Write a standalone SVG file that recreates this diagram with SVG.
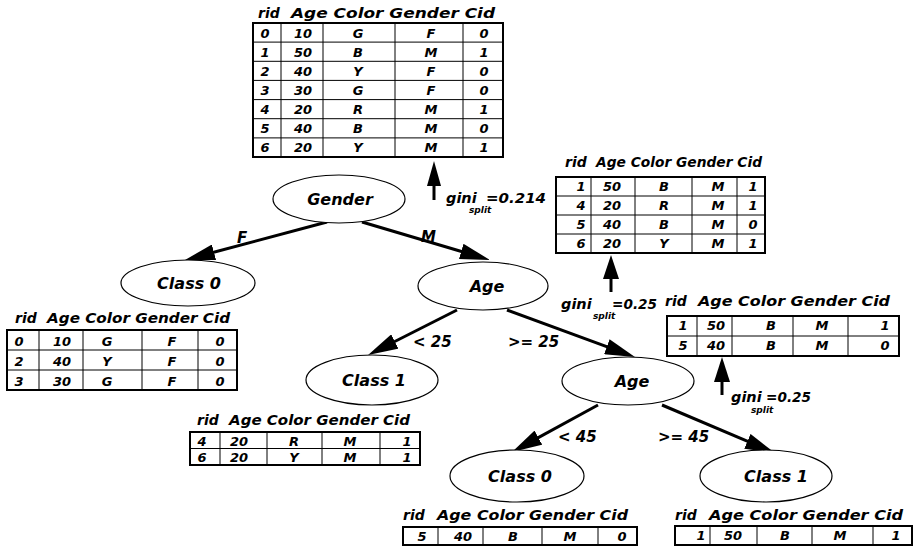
<svg xmlns="http://www.w3.org/2000/svg" width="921" height="556" viewBox="0 0 921 556">
<style>
.t{font-family:"DejaVu Sans",sans-serif;font-weight:bold;font-style:italic;fill:#000}
.h{font-size:14px}
.c{font-size:13px;text-anchor:middle}
.n{font-size:16px;text-anchor:middle}
.e{font-size:15px}
.g{font-size:14.5px}
.s{font-size:9px}
.tb{fill:none;stroke:#000;stroke-width:2}
.ln{stroke:#000;stroke-width:1;fill:none}
.el{fill:#fff;stroke:#000;stroke-width:1.2}
.ed{stroke:#000;stroke-width:3;fill:none;marker-end:url(#ah)}
.up{stroke:#000;stroke-width:3}
</style>
<defs>
<marker id="ah" viewBox="0 0 30 16" refX="10" refY="8" markerWidth="30" markerHeight="16" markerUnits="userSpaceOnUse" orient="auto"><path d="M0,0 L30,8 L0,16 Z" fill="#000"/></marker>
</defs>
<rect width="921" height="556" fill="#fff"/>

<g id="connectors">
<path class="ed" d="M327,222 L204.3,254.8"/>
<path class="ed" d="M362,222 L470.8,254.3"/>
<path class="ed" d="M457,310 L385.9,346"/>
<path class="ed" d="M507,310 L616.2,350.1"/>
<path class="ed" d="M598,405 L529.6,442.4"/>
<path class="ed" d="M662,405 L756.6,445.2"/>
<text class="t e" x="237" y="243">F</text>
<text class="t e" x="421" y="242">M</text>
<text class="t e" x="413" y="347">&lt; 25</text>
<text class="t e" x="508" y="347">&gt;= 25</text>
<text class="t e" x="558" y="442">&lt; 45</text>
<text class="t e" x="658" y="442">&gt;= 45</text>
<polygon points="434,161 427,186 441,186"/>
<line class="up" x1="434" y1="185" x2="434" y2="200"/>
<polygon points="611,255 603,279 619,279"/>
<line class="up" x1="611" y1="278" x2="611" y2="292"/>
<polygon points="722,357 714,382 730,382"/>
<line class="up" x1="722" y1="381" x2="722" y2="395"/>
</g>

<g id="gini-root">
<text class="t g" x="446" y="203">gini</text><text class="t s" x="469" y="213">split</text><text class="t g" x="486" y="203" textLength="60" lengthAdjust="spacingAndGlyphs">=0.214</text>
</g>
<g id="gini-age1">
<text class="t g" x="561" y="309">gini</text><text class="t s" x="593" y="319">split</text><text class="t g" x="612" y="309" textLength="45" lengthAdjust="spacingAndGlyphs">=0.25</text>
</g>
<g id="gini-age2">
<text class="t g" x="731" y="402">gini</text><text class="t s" x="751" y="413">split</text><text class="t g" x="766" y="402" textLength="45" lengthAdjust="spacingAndGlyphs">=0.25</text>
</g>

<g id="node-gender"><ellipse class="el" cx="339" cy="199" rx="66" ry="24"/><text class="t n" x="340" y="205">Gender</text></g>
<g id="node-class0-left"><ellipse class="el" cx="188" cy="283" rx="67" ry="23"/><text class="t n" x="189" y="289">Class 0</text></g>
<g id="node-age1"><ellipse class="el" cx="483" cy="286" rx="65" ry="24"/><text class="t n" x="487" y="292">Age</text></g>
<g id="node-class1-mid"><ellipse class="el" cx="372" cy="380" rx="66" ry="25"/><text class="t n" x="374" y="386">Class 1</text></g>
<g id="node-age2"><ellipse class="el" cx="628" cy="381" rx="66" ry="24"/><text class="t n" x="632" y="387">Age</text></g>
<g id="node-class0-bottom"><ellipse class="el" cx="517" cy="476" rx="67" ry="26"/><text class="t n" x="520" y="482">Class 0</text></g>
<g id="node-class1-bottom"><ellipse class="el" cx="766" cy="476" rx="66" ry="26"/><text class="t n" x="776" y="482">Class 1</text></g>

<g id="table-root">
<text class="t h" x="258" y="18">rid</text><text class="t h" x="291" y="18" textLength="204" lengthAdjust="spacingAndGlyphs">Age Color Gender Cid</text>
<rect class="tb" x="253" y="23" width="250" height="134"/>
<path class="ln" d="M253,42.1H503M253,61.3H503M253,80.4H503M253,99.6H503M253,118.7H503M253,137.9H503M281,23V157M323,23V157M395,23V157M463,23V157"/>
<g class="t c">
<text x="265" y="37.5">0</text><text x="303" y="37.5">10</text><text x="358" y="37.5">G</text><text x="431" y="37.5">F</text><text x="484" y="37.5">0</text>
<text x="265" y="56.5">1</text><text x="303" y="56.5">50</text><text x="358" y="56.5">B</text><text x="431" y="56.5">M</text><text x="484" y="56.5">1</text>
<text x="265" y="75.5">2</text><text x="303" y="75.5">40</text><text x="358" y="75.5">Y</text><text x="431" y="75.5">F</text><text x="484" y="75.5">0</text>
<text x="265" y="94.5">3</text><text x="303" y="94.5">30</text><text x="358" y="94.5">G</text><text x="431" y="94.5">F</text><text x="484" y="94.5">0</text>
<text x="265" y="114">4</text><text x="303" y="114">20</text><text x="358" y="114">R</text><text x="431" y="114">M</text><text x="484" y="114">1</text>
<text x="265" y="133">5</text><text x="303" y="133">40</text><text x="358" y="133">B</text><text x="431" y="133">M</text><text x="484" y="133">0</text>
<text x="265" y="152">6</text><text x="303" y="152">20</text><text x="358" y="152">Y</text><text x="431" y="152">M</text><text x="484" y="152">1</text>
</g>
</g>

<g id="table-age1">
<text class="t h" x="565" y="167">rid</text><text class="t h" x="596" y="167" textLength="166" lengthAdjust="spacingAndGlyphs">Age Color Gender Cid</text>
<rect class="tb" x="556" y="177" width="209" height="76"/>
<path class="ln" d="M556,196H765M556,215H765M556,234H765M591,177V253M635,177V253M692,177V253M737,177V253"/>
<g class="t c">
<text x="581" y="191">1</text><text x="612" y="191">50</text><text x="664" y="191">B</text><text x="718" y="191">M</text><text x="753" y="191">1</text>
<text x="581" y="210">4</text><text x="612" y="210">20</text><text x="664" y="210">R</text><text x="718" y="210">M</text><text x="753" y="210">1</text>
<text x="581" y="229">5</text><text x="612" y="229">40</text><text x="664" y="229">B</text><text x="718" y="229">M</text><text x="753" y="229">0</text>
<text x="581" y="248">6</text><text x="612" y="248">20</text><text x="664" y="248">Y</text><text x="718" y="248">M</text><text x="753" y="248">1</text>
</g>
</g>

<g id="table-age2">
<text class="t h" x="665" y="306">rid</text><text class="t h" x="698" y="306" textLength="192" lengthAdjust="spacingAndGlyphs">Age Color Gender Cid</text>
<rect class="tb" x="667" y="316" width="232" height="40"/>
<path class="ln" d="M667,336H899M697,316V356M732,316V356M793,316V356M848,316V356"/>
<g class="t c">
<text x="683" y="330">1</text><text x="716" y="330">50</text><text x="771" y="330">B</text><text x="822" y="330">M</text><text x="885" y="330">1</text>
<text x="683" y="350">5</text><text x="716" y="350">40</text><text x="771" y="350">B</text><text x="822" y="350">M</text><text x="885" y="350">0</text>
</g>
</g>

<g id="table-class0-left">
<text class="t h" x="15" y="323">rid</text><text class="t h" x="47" y="323" textLength="183" lengthAdjust="spacingAndGlyphs">Age Color Gender Cid</text>
<rect class="tb" x="7" y="330" width="230" height="60"/>
<path class="ln" d="M7,350H237M7,370H237M39,330V390M83,330V390M142,330V390M198,330V390"/>
<g class="t c">
<text x="19" y="345.5">0</text><text x="62" y="345.5">10</text><text x="107" y="345.5">G</text><text x="172" y="345.5">F</text><text x="220" y="345.5">0</text>
<text x="19" y="365.5">2</text><text x="62" y="365.5">40</text><text x="107" y="365.5">Y</text><text x="172" y="365.5">F</text><text x="220" y="365.5">0</text>
<text x="19" y="385.5">3</text><text x="62" y="385.5">30</text><text x="107" y="385.5">G</text><text x="172" y="385.5">F</text><text x="220" y="385.5">0</text>
</g>
</g>

<g id="table-class1-mid">
<text class="t h" x="197" y="425">rid</text><text class="t h" x="229" y="425" textLength="181" lengthAdjust="spacingAndGlyphs">Age Color Gender Cid</text>
<rect class="tb" x="190" y="432" width="230" height="33"/>
<path class="ln" d="M190,448.5H420M220,432V465M267,432V465M322,432V465M380,432V465"/>
<g class="t c">
<text x="202" y="445.5">4</text><text x="239" y="445.5">20</text><text x="294" y="445.5">R</text><text x="350" y="445.5">M</text><text x="407" y="445.5">1</text>
<text x="202" y="462">6</text><text x="239" y="462">20</text><text x="294" y="462">Y</text><text x="350" y="462">M</text><text x="407" y="462">1</text>
</g>
</g>

<g id="table-class0-bottom">
<text class="t h" x="403" y="520">rid</text><text class="t h" x="437" y="520" textLength="191" lengthAdjust="spacingAndGlyphs">Age Color Gender Cid</text>
<rect class="tb" x="403" y="527" width="234" height="18"/>
<path class="ln" d="M438,527V545M483,527V545M542,527V545M598,527V545"/>
<g class="t c">
<text x="422" y="540.5">5</text><text x="463" y="540.5">40</text><text x="513" y="540.5">B</text><text x="570" y="540.5">M</text><text x="622" y="540.5">0</text>
</g>
</g>

<g id="table-class1-bottom">
<text class="t h" x="675" y="520">rid</text><text class="t h" x="709" y="520" textLength="194" lengthAdjust="spacingAndGlyphs">Age Color Gender Cid</text>
<rect class="tb" x="675" y="526" width="237" height="19"/>
<path class="ln" d="M710,526V545M757,526V545M812,526V545M873,526V545"/>
<g class="t c">
<text x="701" y="540">1</text><text x="733" y="540">50</text><text x="785" y="540">B</text><text x="840" y="540">M</text><text x="896" y="540">1</text>
</g>
</g>
</svg>
